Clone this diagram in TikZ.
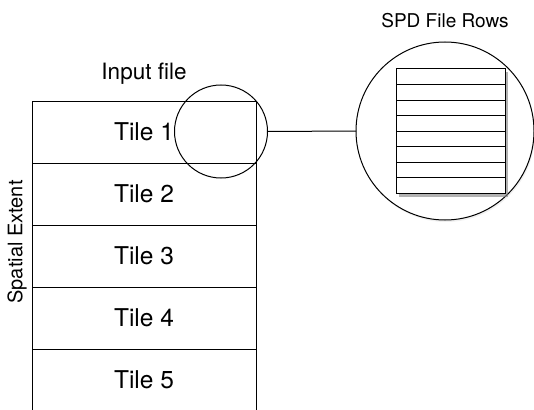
\documentclass[tikz,border=0pt]{standalone}
\usepackage{fontspec}
\setmainfont{TeX Gyre Heros}
\usetikzlibrary{positioning,shadows}

\begin{document}
\begin{tikzpicture}[x=1pt,y=-1pt,line width=1pt,node distance=0pt]
\tikzstyle{tile}=[draw=black,fill=white,minimum width=224pt,minimum height=62pt,inner sep=0pt,outer sep=0pt,font=\fontsize{24.5}{28}\selectfont]
\tikzstyle{row}=[draw=black,fill=white,minimum width=109pt,minimum height=15.5pt,inner sep=0pt,outer sep=0pt]
\tikzstyle{lens}=[draw=black,circle,inner sep=0pt,outer sep=0pt]
\useasboundingbox (0,0) rectangle (534,409);
% input file, cut into tiles
\node[tile] (T1) at (144,132) {Tile 1};
\node[tile] (T2) [below=of T1] {Tile 2};
\node[tile] (T3) [below=of T2] {Tile 3};
\node[tile] (T4) [below=of T3] {Tile 4};
\node[tile,draw=none,fill=none] (T5) [below=of T4] {Tile 5};
\draw (T5.north west) -- (T5.south west);
\draw (T5.north east) -- (T5.south east);
\node[font=\fontsize{22.5}{26}\selectfont] (input) [above=13pt of T1] {Input file};
\node[rotate=90,font=\fontsize{20}{24}\selectfont] (extent) at (17,242) {Spatial Extent};
% zoom onto the rows
\node[lens,minimum size=93pt] (zoom) at (221,131.5) {};
\node[lens,fill=white,minimum size=178pt,drop shadow={opacity=0.12,shadow xshift=1pt,shadow yshift=-2pt}] (detail) at (445,131) {};
\draw (zoom.east) -- (detail.west);
\node[font=\fontsize{19}{22}\selectfont] (spd) [above=10pt of detail] {SPD File Rows};
\node[draw=black,fill=white,minimum width=109pt,minimum height=124pt,inner sep=0pt,drop shadow={opacity=0.6,shadow xshift=2.5pt,shadow yshift=-3.5pt}] (sheet) at (450.5,131) {};
\foreach \i in {1,...,8}
  \node[row] (r\i) at (450.5,61.25+15.5*\i) {};
\end{tikzpicture}
\end{document}
